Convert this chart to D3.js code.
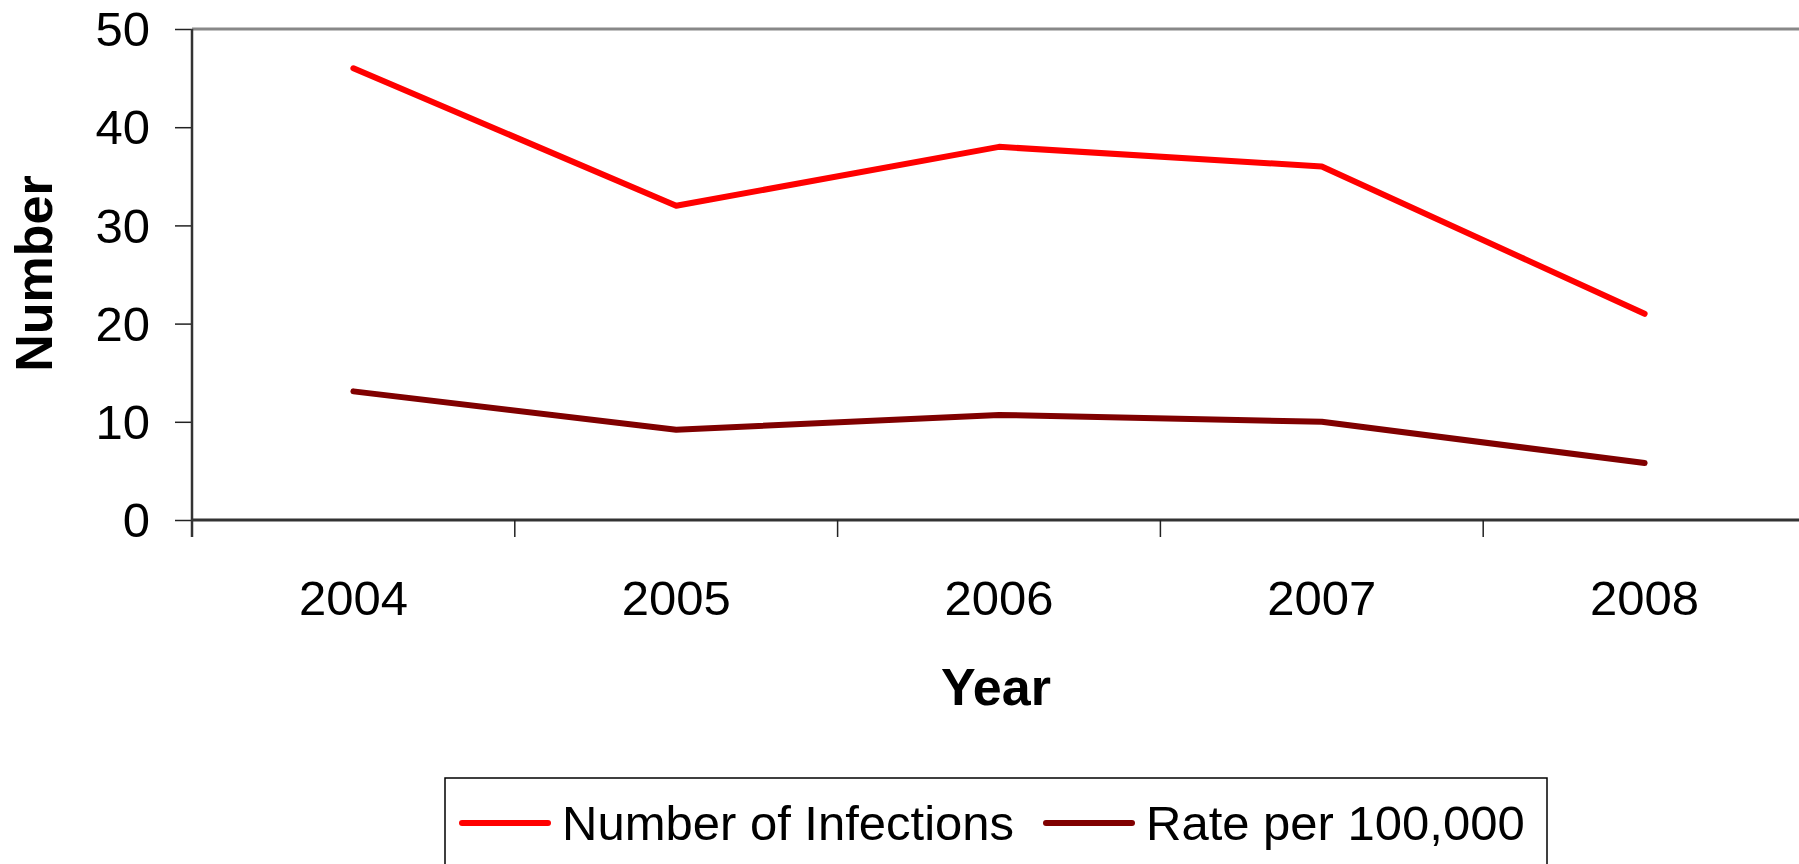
<!DOCTYPE html>
<html>
<head>
<meta charset="utf-8">
<script src="https://cdn.jsdelivr.net/npm/d3@7"></script>
<style>
  html, body { margin: 0; padding: 0; background: #fff; }
  svg { display: block; font-family: "Liberation Sans", Arial, sans-serif; }
</style>
</head>
<body>
<div id="chart"></div>
<script>
// Infections per year
var years = ["2004", "2005", "2006", "2007", "2008"];
var infections = [46, 32, 38, 36, 21];
var ratePer100k = [13.1, 9.2, 10.7, 10.0, 5.8];
var yTicks = [0, 10, 20, 30, 40, 50];
var seriesNames = ["Number of Infections", "Rate per 100,000"];
var seriesColors = ["#ff0000", "#800000"];

var width = 1799, height = 864;
var plot = { left: 192, right: 1806, top: 29, bottom: 520 };
var FONT = 49;
var TITLE_FONT = 52;

var svg = d3.select("#chart").append("svg")
  .attr("width", width)
  .attr("height", height);

var x = d3.scaleBand().domain(years).range([plot.left, plot.right]);
var y = d3.scaleLinear().domain([0, 50]).range([plot.bottom, plot.top]);

// top border of plot area
svg.append("line")
  .attr("x1", plot.left).attr("x2", width)
  .attr("y1", plot.top).attr("y2", plot.top)
  .style("stroke", "#888").style("stroke-width", 3);

// y axis
var yAxis = svg.append("g")
  .attr("transform", `translate(${plot.left},0)`)
  .call(d3.axisLeft(y).tickValues(yTicks).tickSize(17).tickPadding(25));
yAxis.select(".domain").remove();
yAxis.selectAll(".tick line").style("stroke", "#222").style("stroke-width", 1.5);
yAxis.selectAll(".tick text")
  .attr("font-size", FONT + "px")
  .attr("font-family", "Liberation Sans, Arial, sans-serif")
  .attr("dy", "0.34em")
  .style("fill", "#000");

svg.append("line")
  .attr("x1", plot.left).attr("x2", plot.left)
  .attr("y1", plot.top).attr("y2", plot.bottom + 17)
  .style("stroke", "#333").style("stroke-width", 2.5);

// x axis
var xAxis = svg.append("g")
  .attr("transform", `translate(0,${plot.bottom})`)
  .call(d3.axisBottom(x).tickSize(0));
xAxis.select(".domain").remove();
xAxis.selectAll(".tick text")
  .attr("font-size", FONT + "px")
  .attr("font-family", "Liberation Sans, Arial, sans-serif")
  .attr("y", 95).attr("dy", 0)
  .style("fill", "#000");

svg.append("line")
  .attr("x1", plot.left).attr("x2", width)
  .attr("y1", plot.bottom).attr("y2", plot.bottom)
  .style("stroke", "#333").style("stroke-width", 3);

// tick marks at category boundaries
svg.append("g")
  .selectAll("line")
  .data(years.slice(1))
  .enter()
  .append("line")
  .attr("x1", function(d) { return x(d); })
  .attr("x2", function(d) { return x(d); })
  .attr("y1", plot.bottom)
  .attr("y2", plot.bottom + 17)
  .style("stroke", "#222").style("stroke-width", 1.5);

// axis titles
svg.append("text")
  .attr("transform", `translate(52,${(plot.top + plot.bottom) / 2 - 1}) rotate(-90)`)
  .attr("text-anchor", "middle")
  .attr("font-size", TITLE_FONT + "px")
  .attr("font-weight", "bold")
  .text("Number");

svg.append("text")
  .attr("x", (plot.left + plot.right) / 2 - 3)
  .attr("y", 705)
  .attr("text-anchor", "middle")
  .attr("font-size", TITLE_FONT + "px")
  .attr("font-weight", "bold")
  .text("Year");

// lines
var line = d3.line()
  .x(function(d, i) { return x(years[i]) + x.bandwidth() / 2; })
  .y(function(d) { return y(d); });

[infections, ratePer100k].forEach(function(values, i) {
  svg.append("path")
    .datum(values)
    .attr("d", line)
    .attr("fill", "none")
    .style("stroke", seriesColors[i])
    .style("stroke-width", 6)
    .style("stroke-linecap", "round")
    .style("stroke-linejoin", "round");
});

// legend
var legend = svg.append("g");
legend.append("rect")
  .attr("x", 445).attr("y", 778)
  .attr("width", 1102).attr("height", 120)
  .attr("fill", "#fff")
  .style("stroke", "#000").style("stroke-width", 1.5);

var legendX = [462, 1046];
seriesNames.forEach(function(name, i) {
  legend.append("line")
    .attr("x1", legendX[i]).attr("x2", legendX[i] + 86)
    .attr("y1", 823).attr("y2", 823)
    .style("stroke", seriesColors[i])
    .style("stroke-width", 6)
    .style("stroke-linecap", "round");
  legend.append("text")
    .attr("x", legendX[i] + 100)
    .attr("y", 840)
    .attr("font-size", FONT + "px")
    .text(name);
});
</script>
</body>
</html>
